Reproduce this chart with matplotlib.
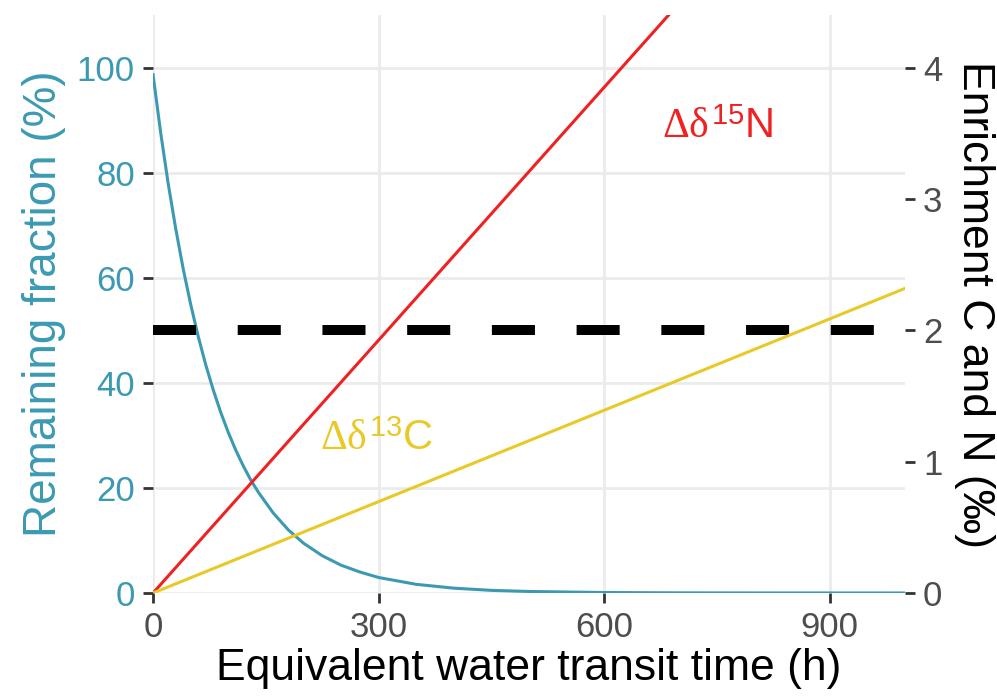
import matplotlib
matplotlib.use("Agg")
import matplotlib.pyplot as plt

# colours (Zissou-like palette)
teal = '#3B9AB2'
yellow = '#E8C928'
red = '#EE2222'
grey_txt = '#4D4D4D'

# remaining fraction (time in h, fraction in %)
t_frac = [0, 10, 20, 30, 40, 50, 60, 70, 80, 90, 100, 110, 120, 130, 140,
          160, 180, 200, 225, 250, 275, 300, 350, 400, 450, 500, 600, 700,
          800, 1000]
frac = [98.7, 87.8, 78.1, 69.5, 61.8, 55.0, 48.9, 43.5, 38.7, 34.4, 30.6,
        27.2, 24.2, 21.5, 19.2, 15.2, 12.0, 9.5, 7.1, 5.3, 4.0, 2.95, 1.65,
        0.92, 0.5, 0.29, 0.09, 0.03, 0.01, 0.0]

# enrichment lines (per mil)
t_enr = [0, 1000]
d15N = [0, 6.42]
d13C = [0, 2.32]

# threshold
t_thr = [0, 1000]
thr = [50, 50]

plt.rcParams['font.family'] = ['Liberation Sans', 'DejaVu Sans']
plt.rcParams['mathtext.fontset'] = 'custom'
plt.rcParams['mathtext.rm'] = 'Liberation Serif'
plt.rcParams['mathtext.it'] = 'Liberation Serif'
plt.rcParams['mathtext.sf'] = 'Liberation Sans'
plt.rcParams['lines.scale_dashes'] = False

fig = plt.figure(figsize=(9.97, 6.96), dpi=100)
ax = fig.add_axes([0.1535, 0.148, 0.7542, 0.830])
ax2 = ax.twinx()

ax.set_xlim(0, 1000)
ax.set_ylim(0, 110)
ax2.set_ylim(0, 4.4)
ax.set_xticks([0, 300, 600, 900])
ax.set_yticks([0, 20, 40, 60, 80, 100])
ax2.set_yticks([0, 1, 2, 3, 4])

ax.grid(True, color='#EBEBEB', lw=2.0)
ax.set_axisbelow(True)
for a in (ax, ax2):
    for s in a.spines.values():
        s.set_visible(False)
ax2.patch.set_visible(False)

ax.plot(t_frac, frac, color=teal, lw=2.2, zorder=3)
ax.plot(t_thr, thr, color='black', lw=7.2, ls=(0, (31, 30)), zorder=4)
ax2.plot(t_enr, d15N, color=red, lw=2.2)
ax2.plot(t_enr, d13C, color=yellow, lw=2.2)

ax2.text(751, 3.55, r'$\Delta\delta^{\mathsf{15}}$N', color=red, fontsize=30,
         ha='center', va='center')
ax2.text(298, 1.17, r'$\Delta\delta^{\mathsf{13}}$C', color=yellow, fontsize=30,
         ha='center', va='center')

ax.tick_params(axis='x', colors='#333333', length=7, width=2, pad=6,
               labelsize=25, labelcolor=grey_txt)
ax.tick_params(axis='y', colors='#333333', length=7, width=2, pad=6,
               labelsize=25, labelcolor=teal)
ax2.tick_params(axis='y', colors='#333333', length=7, width=2, pad=6,
                labelsize=25, labelcolor=grey_txt)

ax.set_xlabel('Equivalent water transit time (h)', fontsize=32, color='black',
              labelpad=3)
ax.set_ylabel('Remaining fraction (%)', fontsize=33, color=teal, labelpad=8)
ax2.set_ylabel('Enrichment C and N (‰)', fontsize=32, color='black',
               rotation=270, labelpad=38)

fig.savefig('out.png', dpi=100)
